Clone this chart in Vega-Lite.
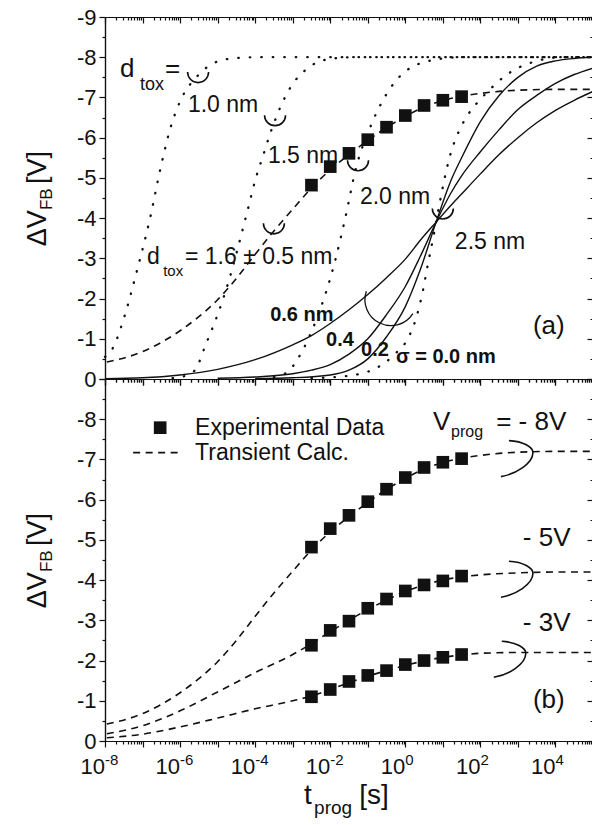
{
"$schema": "https://vega.github.io/schema/vega-lite/v6.json",
"padding": {"left": 24, "top": 6, "right": 0, "bottom": 0},
"background": "white",
"spacing": 0,
"bounds": "flush",
"config": {
  "view": {"stroke": null},
  "font": "Liberation Sans",
  "axis": {"labelFont": "Liberation Sans", "labelFontSize": 22, "labelColor": "#111", "domainColor": "#111", "tickColor": "#111", "domainWidth": 1.2, "tickWidth": 1.2, "grid": false, "labelPadding": 3, "title": null},
  "text": {"font": "Liberation Sans", "color": "#111"}
},
"datasets": {
  "curves": [
    {"c":"c10","t":1e-8,"v":-0.55},{"c":"c10","t":1.62e-8,"v":-0.77},{"c":"c10","t":3.16e-8,"v":-1.5},{"c":"c10","t":6.76e-8,"v":-2.62},{"c":"c10","t":1.585e-7,"v":-4.0},{"c":"c10","t":2.95e-7,"v":-5.2},{"c":"c10","t":5.37e-7,"v":-6.2},{"c":"c10","t":1e-6,"v":-6.9},{"c":"c10","t":3.02e-6,"v":-7.55},{"c":"c10","t":9.12e-6,"v":-7.88},{"c":"c10","t":3.16e-5,"v":-7.98},{"c":"c10","t":1e-4,"v":-8.0},{"c":"c10","t":1e5,"v":-8.0},
    {"c":"c15","t":6.31e-7,"v":-0.02},{"c":"c15","t":1.585e-6,"v":-0.1},{"c":"c15","t":2.63e-6,"v":-0.25},{"c":"c15","t":4.9e-6,"v":-0.87},{"c":"c15","t":1e-5,"v":-1.6},{"c":"c15","t":2.0e-5,"v":-2.45},{"c":"c15","t":3.55e-5,"v":-3.3},{"c":"c15","t":6.31e-5,"v":-4.2},{"c":"c15","t":1.047e-4,"v":-5.0},{"c":"c15","t":1.62e-4,"v":-5.55},{"c":"c15","t":2.51e-4,"v":-6.1},{"c":"c15","t":3.98e-4,"v":-6.6},{"c":"c15","t":6.61e-4,"v":-7.05},{"c":"c15","t":1.122e-3,"v":-7.4},{"c":"c15","t":2.0e-3,"v":-7.65},{"c":"c15","t":3.98e-3,"v":-7.85},{"c":"c15","t":1.259e-2,"v":-7.97},{"c":"c15","t":3.98e-2,"v":-8.0},{"c":"c15","t":1e5,"v":-8.0},
    {"c":"c20","t":3.16e-4,"v":-0.05},{"c":"c20","t":7.94e-4,"v":-0.2},{"c":"c20","t":1.259e-3,"v":-0.45},{"c":"c20","t":4.17e-3,"v":-1.45},{"c":"c20","t":1.35e-2,"v":-2.94},{"c":"c20","t":2.51e-2,"v":-4.0},{"c":"c20","t":4.9e-2,"v":-5.26},{"c":"c20","t":0.115,"v":-6.25},{"c":"c20","t":0.309,"v":-7.07},{"c":"c20","t":0.871,"v":-7.6},{"c":"c20","t":5.5,"v":-7.93},{"c":"c20","t":31.6,"v":-8.0},{"c":"c20","t":1e5,"v":-8.0},
    {"c":"c25","t":3.16e-3,"v":-0.02},{"c":"c25","t":2.51e-2,"v":-0.07},{"c":"c25","t":0.166,"v":-0.27},{"c":"c25","t":0.5,"v":-0.6},{"c":"c25","t":1.318,"v":-1.1},{"c":"c25","t":1.995,"v":-1.55},{"c":"c25","t":2.95,"v":-2.2},{"c":"c25","t":3.98,"v":-2.85},{"c":"c25","t":5.5,"v":-3.5},{"c":"c25","t":6.61,"v":-3.9},{"c":"c25","t":8.32,"v":-4.4},{"c":"c25","t":11.2,"v":-5.0},{"c":"c25","t":15.5,"v":-5.55},{"c":"c25","t":25.1,"v":-6.1},{"c":"c25","t":41.7,"v":-6.5},{"c":"c25","t":79.4,"v":-6.85},{"c":"c25","t":141,"v":-7.1},{"c":"c25","t":479,"v":-7.55},{"c":"c25","t":2512,"v":-7.88},{"c":"c25","t":15850,"v":-8.0},{"c":"c25","t":1e5,"v":-8.0},
    {"c":"s02","t":1e-4,"v":-0.01},{"c":"s02","t":1e-3,"v":-0.03},{"c":"s02","t":0.01,"v":-0.1},{"c":"s02","t":0.0316,"v":-0.22},{"c":"s02","t":0.1,"v":-0.5},{"c":"s02","t":0.316,"v":-1.05},{"c":"s02","t":1,"v":-1.8},{"c":"s02","t":2.512,"v":-2.72},{"c":"s02","t":6.61,"v":-3.9},{"c":"s02","t":15.85,"v":-4.9},{"c":"s02","t":31.6,"v":-5.5},{"c":"s02","t":100,"v":-6.4},{"c":"s02","t":316,"v":-7.05},{"c":"s02","t":1000,"v":-7.5},{"c":"s02","t":3162,"v":-7.78},{"c":"s02","t":10000,"v":-7.91},{"c":"s02","t":31620,"v":-7.97},{"c":"s02","t":1e5,"v":-8.0},
    {"c":"s04","t":1e-5,"v":-0.02},{"c":"s04","t":1e-4,"v":-0.05},{"c":"s04","t":1e-3,"v":-0.13},{"c":"s04","t":3.16e-3,"v":-0.22},{"c":"s04","t":0.01,"v":-0.36},{"c":"s04","t":0.0316,"v":-0.62},{"c":"s04","t":0.1,"v":-1.0},{"c":"s04","t":0.316,"v":-1.6},{"c":"s04","t":1,"v":-2.3},{"c":"s04","t":2.512,"v":-3.05},{"c":"s04","t":6.61,"v":-3.9},{"c":"s04","t":15.85,"v":-4.6},{"c":"s04","t":31.6,"v":-5.05},{"c":"s04","t":100,"v":-5.65},{"c":"s04","t":316,"v":-6.2},{"c":"s04","t":1000,"v":-6.7},{"c":"s04","t":3162,"v":-7.05},{"c":"s04","t":10000,"v":-7.35},{"c":"s04","t":31620,"v":-7.57},{"c":"s04","t":1e5,"v":-7.73},
    {"c":"s06","t":1e-8,"v":-0.01},{"c":"s06","t":1e-7,"v":-0.03},{"c":"s06","t":1e-6,"v":-0.1},{"c":"s06","t":1e-5,"v":-0.24},{"c":"s06","t":1e-4,"v":-0.48},{"c":"s06","t":1e-3,"v":-0.85},{"c":"s06","t":3.16e-3,"v":-1.08},{"c":"s06","t":0.01,"v":-1.38},{"c":"s06","t":0.0316,"v":-1.72},{"c":"s06","t":0.1,"v":-2.1},{"c":"s06","t":0.316,"v":-2.52},{"c":"s06","t":1,"v":-2.98},{"c":"s06","t":2.512,"v":-3.45},{"c":"s06","t":6.61,"v":-3.9},{"c":"s06","t":15.85,"v":-4.3},{"c":"s06","t":31.6,"v":-4.6},{"c":"s06","t":100,"v":-5.1},{"c":"s06","t":316,"v":-5.58},{"c":"s06","t":1000,"v":-6.0},{"c":"s06","t":3162,"v":-6.37},{"c":"s06","t":10000,"v":-6.68},{"c":"s06","t":31620,"v":-6.93},{"c":"s06","t":1e5,"v":-7.15},
    {"c":"d8","t":1.12e-8,"v":-0.42},{"c":"d8","t":1e-7,"v":-0.68},{"c":"d8","t":1e-6,"v":-1.2},{"c":"d8","t":3.16e-6,"v":-1.55},{"c":"d8","t":1e-5,"v":-1.97},{"c":"d8","t":3.16e-5,"v":-2.5},{"c":"d8","t":1e-4,"v":-3.1},{"c":"d8","t":3.16e-4,"v":-3.68},{"c":"d8","t":1e-3,"v":-4.22},{"c":"d8","t":3.16e-3,"v":-4.75},{"c":"d8","t":0.01,"v":-5.2},{"c":"d8","t":0.0316,"v":-5.58},{"c":"d8","t":0.1,"v":-5.93},{"c":"d8","t":0.316,"v":-6.25},{"c":"d8","t":1,"v":-6.53},{"c":"d8","t":3.16,"v":-6.76},{"c":"d8","t":10,"v":-6.92},{"c":"d8","t":31.6,"v":-7.03},{"c":"d8","t":100,"v":-7.1},{"c":"d8","t":316,"v":-7.15},{"c":"d8","t":1000,"v":-7.18},{"c":"d8","t":10000,"v":-7.2},{"c":"d8","t":100000,"v":-7.2},
    {"c":"d5","t":1.12e-8,"v":-0.18},{"c":"d5","t":1e-7,"v":-0.38},{"c":"d5","t":1e-6,"v":-0.75},{"c":"d5","t":1e-5,"v":-1.22},{"c":"d5","t":1e-4,"v":-1.7},{"c":"d5","t":1e-3,"v":-2.15},{"c":"d5","t":3.16e-3,"v":-2.42},{"c":"d5","t":0.01,"v":-2.72},{"c":"d5","t":0.0316,"v":-3.0},{"c":"d5","t":0.1,"v":-3.27},{"c":"d5","t":0.316,"v":-3.5},{"c":"d5","t":1,"v":-3.72},{"c":"d5","t":3.16,"v":-3.88},{"c":"d5","t":10,"v":-4.0},{"c":"d5","t":31.6,"v":-4.08},{"c":"d5","t":100,"v":-4.13},{"c":"d5","t":1000,"v":-4.18},{"c":"d5","t":10000,"v":-4.2},{"c":"d5","t":100000,"v":-4.2},
    {"c":"d3","t":1.12e-8,"v":-0.08},{"c":"d3","t":1e-7,"v":-0.17},{"c":"d3","t":1e-6,"v":-0.35},{"c":"d3","t":1e-5,"v":-0.57},{"c":"d3","t":1e-4,"v":-0.8},{"c":"d3","t":1e-3,"v":-1.0},{"c":"d3","t":3.16e-3,"v":-1.12},{"c":"d3","t":0.01,"v":-1.28},{"c":"d3","t":0.0316,"v":-1.45},{"c":"d3","t":0.1,"v":-1.61},{"c":"d3","t":0.316,"v":-1.75},{"c":"d3","t":1,"v":-1.88},{"c":"d3","t":3.16,"v":-1.99},{"c":"d3","t":10,"v":-2.08},{"c":"d3","t":31.6,"v":-2.14},{"c":"d3","t":100,"v":-2.18},{"c":"d3","t":1000,"v":-2.2},{"c":"d3","t":10000,"v":-2.2},{"c":"d3","t":100000,"v":-2.2}
  ],
  "squares": [
    {"s":"m8","t":0.00316,"v":-4.82},{"s":"m8","t":0.01,"v":-5.28},{"s":"m8","t":0.0316,"v":-5.61},{"s":"m8","t":0.1,"v":-5.95},{"s":"m8","t":0.316,"v":-6.26},{"s":"m8","t":1,"v":-6.55},{"s":"m8","t":3.16,"v":-6.8},{"s":"m8","t":10,"v":-6.93},{"s":"m8","t":31.6,"v":-7.02},
    {"s":"m5","t":0.00316,"v":-2.38},{"s":"m5","t":0.01,"v":-2.75},{"s":"m5","t":0.0316,"v":-2.98},{"s":"m5","t":0.1,"v":-3.3},{"s":"m5","t":0.316,"v":-3.53},{"s":"m5","t":1,"v":-3.73},{"s":"m5","t":3.16,"v":-3.88},{"s":"m5","t":10,"v":-3.98},{"s":"m5","t":31.6,"v":-4.1},
    {"s":"m3","t":0.00316,"v":-1.1},{"s":"m3","t":0.01,"v":-1.28},{"s":"m3","t":0.0316,"v":-1.48},{"s":"m3","t":0.1,"v":-1.63},{"s":"m3","t":0.316,"v":-1.75},{"s":"m3","t":1,"v":-1.9},{"s":"m3","t":3.16,"v":-2.0},{"s":"m3","t":10,"v":-2.08},{"s":"m3","t":31.6,"v":-2.15}
  ],
  "xbase": [{"t":1e-8,"label":"10"},{"t":1e-6,"label":"10"},{"t":1e-4,"label":"10"},{"t":0.01,"label":"10"},{"t":1,"label":"10"},{"t":100,"label":"10"},{"t":10000,"label":"10"}],
  "xexp": [{"t":1e-8,"label":"-8"},{"t":1e-6,"label":"-6"},{"t":1e-4,"label":"-4"},{"t":0.01,"label":"-2"},{"t":1,"label":"0"},{"t":100,"label":"2"},{"t":10000,"label":"4"}]
},
"vconcat": [
  {
    "width": 488, "height": 362,
    "resolve": {"axis": {"x": "independent", "y": "independent"}},
    "layer": [
      {"data": {"name": "curves"}, "transform": [{"filter": {"field": "c", "oneOf": ["c10","c15","c20","c25"]}}],
       "mark": {"type": "line", "strokeDash": [0.5, 11], "strokeCap": "round", "strokeWidth": 2.3, "color": "#111", "interpolate": "monotone"},
       "encoding": {
         "x": {"field": "t", "type": "quantitative", "scale": {"type": "log", "domain": [1e-8, 100000], "nice": false},
               "axis": {"orient": "bottom", "values": [1e-8,1e-7,1e-6,1e-5,1e-4,0.001,0.01,0.1,1,10,100,1000,10000,100000], "labels": false, "tickSize": 6}},
         "y": {"field": "v", "type": "quantitative", "scale": {"domain": [-9, 0], "reverse": true, "nice": false, "zero": false},
               "axis": {"orient": "left", "values": [-9,-8,-7,-6,-5,-4,-3,-2,-1,0], "tickSize": 6, "labelExpr": "datum.value == 0 ? '0' : '-' + abs(datum.value)"}},
         "detail": {"field": "c"}}},
      {"data": {"name": "curves"}, "transform": [{"filter": {"field": "c", "oneOf": ["s02","s04","s06"]}}],
       "mark": {"type": "line", "strokeWidth": 1.4, "color": "#111", "interpolate": "monotone"},
       "encoding": {
         "x": {"field": "t", "type": "quantitative", "axis": {"orient": "top", "values": [1e-8,1e-7,1e-6,1e-5,1e-4,0.001,0.01,0.1,1,10,100,1000,10000,100000], "labels": false, "tickSize": -6}},
         "y": {"field": "v", "type": "quantitative", "axis": {"orient": "right", "values": [-9,-8,-7,-6,-5,-4,-3,-2,-1,0], "labels": false, "tickSize": -6}},
         "detail": {"field": "c"}}},
      {"data": {"name": "curves"}, "transform": [{"filter": {"field": "c", "equal": "d8"}}],
       "mark": {"type": "line", "strokeDash": [7, 5.5], "strokeWidth": 1.6, "color": "#111", "interpolate": "monotone"},
       "encoding": {
         "x": {"field": "t", "type": "quantitative", "axis": {"orient": "bottom", "labels": false, "tickSize": 3, "values": [2e-8,3e-8,4e-8,5e-8,6e-8,7e-8,8e-8,9e-8,2e-7,3e-7,4e-7,5e-7,6e-7,7e-7,8e-7,9e-7,2e-6,3e-6,4e-6,5e-6,6e-6,7e-6,8e-6,9e-6,2e-5,3e-5,4e-5,5e-5,6e-5,7e-5,8e-5,9e-5,2e-4,3e-4,4e-4,5e-4,6e-4,7e-4,8e-4,9e-4,0.002,0.003,0.004,0.005,0.006,0.007,0.008,0.009,0.02,0.03,0.04,0.05,0.06,0.07,0.08,0.09,0.2,0.3,0.4,0.5,0.6,0.7,0.8,0.9,2,3,4,5,6,7,8,9,20,30,40,50,60,70,80,90,200,300,400,500,600,700,800,900,2000,3000,4000,5000,6000,7000,8000,9000,20000,30000,40000,50000,60000,70000,80000,90000]}},
         "y": {"field": "v", "type": "quantitative", "axis": {"orient": "left", "labels": false, "tickSize": 3, "values": [-8.5,-7.5,-6.5,-5.5,-4.5,-3.5,-2.5,-1.5,-0.5]}}}},
      {"data": {"name": "squares"}, "transform": [{"filter": {"field": "s", "equal": "m8"}}],
       "mark": {"type": "point", "shape": "square", "filled": true, "size": 160, "color": "#111", "opacity": 1},
       "encoding": {
         "x": {"field": "t", "type": "quantitative", "axis": {"orient": "top", "labels": false, "tickSize": -3, "values": [2e-8,3e-8,4e-8,5e-8,6e-8,7e-8,8e-8,9e-8,2e-7,3e-7,4e-7,5e-7,6e-7,7e-7,8e-7,9e-7,2e-6,3e-6,4e-6,5e-6,6e-6,7e-6,8e-6,9e-6,2e-5,3e-5,4e-5,5e-5,6e-5,7e-5,8e-5,9e-5,2e-4,3e-4,4e-4,5e-4,6e-4,7e-4,8e-4,9e-4,0.002,0.003,0.004,0.005,0.006,0.007,0.008,0.009,0.02,0.03,0.04,0.05,0.06,0.07,0.08,0.09,0.2,0.3,0.4,0.5,0.6,0.7,0.8,0.9,2,3,4,5,6,7,8,9,20,30,40,50,60,70,80,90,200,300,400,500,600,700,800,900,2000,3000,4000,5000,6000,7000,8000,9000,20000,30000,40000,50000,60000,70000,80000,90000]}},
         "y": {"field": "v", "type": "quantitative", "axis": {"orient": "right", "labels": false, "tickSize": -3, "values": [-8.5,-7.5,-6.5,-5.5,-4.5,-3.5,-2.5,-1.5,-0.5]}}}},
      {"data": {"values": [{"t":3.02e-6,"v":-7.63},{"t":3.39e-4,"v":-6.56},{"t":3.16e-4,"v":-3.87},{"t":0.055,"v":-5.44},{"t":10,"v":-4.24}]},
       "mark": {"type": "point", "shape": "M -1 0 A 1 1 0 0 0 1 0", "filled": false, "strokeWidth": 1.6, "size": 441, "color": "#111", "opacity": 1},
       "encoding": {"x": {"field": "t", "type": "quantitative", "axis": null}, "y": {"field": "v", "type": "quantitative", "axis": null}}},
      {"data": {"values": [{"t":0.417,"v":-1.97}]},
       "mark": {"type": "point", "shape": "M -0.95 -0.33 A 1 1 0 0 0 0.84 0.53", "filled": false, "strokeWidth": 1.3, "size": 2704, "color": "#111", "opacity": 1},
       "encoding": {"x": {"field": "t", "type": "quantitative", "axis": null}, "y": {"field": "v", "type": "quantitative", "axis": null}}},
      {"data": {"values": [{"t":1.62e-6,"v":-6.63,"label":"1.0 nm"},{"t":2.19e-4,"v":-5.36,"label":"1.5 nm"},{"t":0.0617,"v":-4.36,"label":"2.0 nm"},{"t":20.9,"v":-3.24,"label":"2.5 nm"},{"t":1.32e-7,"v":-2.87,"label":"d"},{"t":1.35e-6,"v":-2.87,"label":"= 1.6 ± 0.5 nm"}]},
       "mark": {"type": "text", "align": "left", "baseline": "alphabetic", "fontSize": 23},
       "encoding": {"x": {"field": "t", "type": "quantitative", "axis": null}, "y": {"field": "v", "type": "quantitative", "axis": null}, "text": {"field": "label"}}},
      {"data": {"values": [{"t":2.51e-8,"v":-7.51,"label":"d"},{"t":3.98e-7,"v":-7.51,"label":"="},{"t":2512,"v":-1.12,"label":"(a)"}]},
       "mark": {"type": "text", "align": "left", "baseline": "alphabetic", "fontSize": 26},
       "encoding": {"x": {"field": "t", "type": "quantitative", "axis": null}, "y": {"field": "v", "type": "quantitative", "axis": null}, "text": {"field": "label"}}},
      {"data": {"values": [{"t":8.51e-8,"v":-7.18,"label":"tox"}]},
       "mark": {"type": "text", "align": "left", "baseline": "alphabetic", "fontSize": 18},
       "encoding": {"x": {"field": "t", "type": "quantitative", "axis": null}, "y": {"field": "v", "type": "quantitative", "axis": null}, "text": {"field": "label"}}},
      {"data": {"values": [{"t":3.55e-7,"v":-2.57,"label":"tox"}]},
       "mark": {"type": "text", "align": "left", "baseline": "alphabetic", "fontSize": 15},
       "encoding": {"x": {"field": "t", "type": "quantitative", "axis": null}, "y": {"field": "v", "type": "quantitative", "axis": null}, "text": {"field": "label"}}},
      {"data": {"values": [{"t":2.51e-4,"v":-1.45,"label":"0.6 nm"},{"t":0.00776,"v":-0.82,"label":"0.4"},{"t":0.0661,"v":-0.57,"label":"0.2"},{"t":0.562,"v":-0.4,"label":"σ = 0.0 nm"}]},
       "mark": {"type": "text", "align": "left", "baseline": "alphabetic", "fontSize": 20, "fontWeight": "bold"},
       "encoding": {"x": {"field": "t", "type": "quantitative", "axis": null}, "y": {"field": "v", "type": "quantitative", "axis": null}, "text": {"field": "label"}}},
      {"data": {"values": [{"t":2.69e-10,"v":-3.3,"label":"ΔV"},{"t":2.69e-10,"v":-4.85,"label":"[V]"}]},
       "mark": {"type": "text", "align": "left", "baseline": "alphabetic", "fontSize": 27, "angle": 270},
       "encoding": {"x": {"field": "t", "type": "quantitative", "axis": null}, "y": {"field": "v", "type": "quantitative", "axis": null}, "text": {"field": "label"}}},
      {"data": {"values": [{"t":3.89e-10,"v":-4.2,"label":"FB"}]},
       "mark": {"type": "text", "align": "left", "baseline": "alphabetic", "fontSize": 17, "angle": 270},
       "encoding": {"x": {"field": "t", "type": "quantitative", "axis": null}, "y": {"field": "v", "type": "quantitative", "axis": null}, "text": {"field": "label"}}}
    ]
  },
  {
    "width": 488, "height": 362,
    "resolve": {"axis": {"x": "independent", "y": "independent"}},
    "layer": [
      {"data": {"name": "curves"}, "transform": [{"filter": {"field": "c", "oneOf": ["d8","d5","d3"]}}],
       "mark": {"type": "line", "strokeDash": [7, 5.5], "strokeWidth": 1.6, "color": "#111", "interpolate": "monotone"},
       "encoding": {
         "x": {"field": "t", "type": "quantitative", "scale": {"type": "log", "domain": [1e-8, 100000], "nice": false},
               "axis": {"orient": "bottom", "values": [1e-8,1e-7,1e-6,1e-5,1e-4,0.001,0.01,0.1,1,10,100,1000,10000,100000], "tickSize": 6, "labels": false}},
         "y": {"field": "v", "type": "quantitative", "scale": {"domain": [-9, 0], "reverse": true, "nice": false, "zero": false},
               "axis": {"orient": "left", "values": [-9,-8,-7,-6,-5,-4,-3,-2,-1,0], "tickSize": 6, "labelExpr": "datum.value == -9 ? '' : datum.value == 0 ? '0' : '-' + abs(datum.value)"}},
         "detail": {"field": "c"}}},
      {"data": {"name": "squares"},
       "mark": {"type": "point", "shape": "square", "filled": true, "size": 160, "color": "#111", "opacity": 1},
       "encoding": {
         "x": {"field": "t", "type": "quantitative", "axis": {"orient": "top", "values": [1e-8,1e-7,1e-6,1e-5,1e-4,0.001,0.01,0.1,1,10,100,1000,10000,100000], "labels": false, "tickSize": -6}},
         "y": {"field": "v", "type": "quantitative", "axis": {"orient": "right", "values": [-9,-8,-7,-6,-5,-4,-3,-2,-1,0], "labels": false, "tickSize": -6}}}},
      {"data": {"values": [{"t":5.62e-8,"v":-7.17},{"t":1.2e-6,"v":-7.17}]},
       "mark": {"type": "line", "strokeDash": [7, 5.5], "strokeWidth": 1.6, "color": "#111"},
       "encoding": {
         "x": {"field": "t", "type": "quantitative", "axis": {"orient": "bottom", "labels": false, "tickSize": 3, "values": [2e-8,3e-8,4e-8,5e-8,6e-8,7e-8,8e-8,9e-8,2e-7,3e-7,4e-7,5e-7,6e-7,7e-7,8e-7,9e-7,2e-6,3e-6,4e-6,5e-6,6e-6,7e-6,8e-6,9e-6,2e-5,3e-5,4e-5,5e-5,6e-5,7e-5,8e-5,9e-5,2e-4,3e-4,4e-4,5e-4,6e-4,7e-4,8e-4,9e-4,0.002,0.003,0.004,0.005,0.006,0.007,0.008,0.009,0.02,0.03,0.04,0.05,0.06,0.07,0.08,0.09,0.2,0.3,0.4,0.5,0.6,0.7,0.8,0.9,2,3,4,5,6,7,8,9,20,30,40,50,60,70,80,90,200,300,400,500,600,700,800,900,2000,3000,4000,5000,6000,7000,8000,9000,20000,30000,40000,50000,60000,70000,80000,90000]}},
         "y": {"field": "v", "type": "quantitative", "axis": {"orient": "left", "labels": false, "tickSize": 3, "values": [-8.5,-7.5,-6.5,-5.5,-4.5,-3.5,-2.5,-1.5,-0.5]}}}},
      {"data": {"values": [{"t":2512,"v":-7.17},{"t":2512,"v":-4.17},{"t":1622,"v":-2.18}]},
       "mark": {"type": "point", "shape": "M -1.5 -0.75 C -0.6 -0.7 0 -0.35 0 0 C 0 0.7 -1.1 1.35 -2 1.5", "filled": false, "strokeWidth": 1.6, "size": 1024, "color": "#111", "opacity": 1},
       "encoding": {
         "x": {"field": "t", "type": "quantitative", "axis": {"orient": "top", "labels": false, "tickSize": -3, "values": [2e-8,3e-8,4e-8,5e-8,6e-8,7e-8,8e-8,9e-8,2e-7,3e-7,4e-7,5e-7,6e-7,7e-7,8e-7,9e-7,2e-6,3e-6,4e-6,5e-6,6e-6,7e-6,8e-6,9e-6,2e-5,3e-5,4e-5,5e-5,6e-5,7e-5,8e-5,9e-5,2e-4,3e-4,4e-4,5e-4,6e-4,7e-4,8e-4,9e-4,0.002,0.003,0.004,0.005,0.006,0.007,0.008,0.009,0.02,0.03,0.04,0.05,0.06,0.07,0.08,0.09,0.2,0.3,0.4,0.5,0.6,0.7,0.8,0.9,2,3,4,5,6,7,8,9,20,30,40,50,60,70,80,90,200,300,400,500,600,700,800,900,2000,3000,4000,5000,6000,7000,8000,9000,20000,30000,40000,50000,60000,70000,80000,90000]}},
         "y": {"field": "v", "type": "quantitative", "axis": {"orient": "right", "labels": false, "tickSize": -3, "values": [-8.5,-7.5,-6.5,-5.5,-4.5,-3.5,-2.5,-1.5,-0.5]}}}},
      {"data": {"values": [{"t":2.95e-7,"v":-7.79}]},
       "mark": {"type": "point", "shape": "square", "filled": true, "size": 160, "color": "#111", "opacity": 1},
       "encoding": {"x": {"field": "t", "type": "quantitative", "axis": null}, "y": {"field": "v", "type": "quantitative", "axis": null}}},
      {"data": {"values": [{"t":2.51e-6,"v":-7.79,"label":"Experimental Data"},{"t":2.51e-6,"v":-7.17,"label":"Transient Calc."}]},
       "mark": {"type": "text", "align": "left", "baseline": "middle", "fontSize": 23},
       "encoding": {"x": {"field": "t", "type": "quantitative", "axis": null}, "y": {"field": "v", "type": "quantitative", "axis": null}, "text": {"field": "label"}}},
      {"data": {"values": [{"t":5.5,"v":-7.74,"label":"V"},{"t":263,"v":-7.74,"label":"= - 8V"},{"t":1349,"v":-4.84,"label":"- 5V"},{"t":1349,"v":-2.73,"label":"- 3V"},{"t":2512,"v":-0.82,"label":"(b)"}]},
       "mark": {"type": "text", "align": "left", "baseline": "alphabetic", "fontSize": 26},
       "encoding": {"x": {"field": "t", "type": "quantitative", "axis": null}, "y": {"field": "v", "type": "quantitative", "axis": null}, "text": {"field": "label"}}},
      {"data": {"values": [{"t":16.6,"v":-7.56,"label":"prog"}]},
       "mark": {"type": "text", "align": "left", "baseline": "alphabetic", "fontSize": 16},
       "encoding": {"x": {"field": "t", "type": "quantitative", "axis": null}, "y": {"field": "v", "type": "quantitative", "axis": null}, "text": {"field": "label"}}},
      {"data": {"values": [{"t":2.69e-10,"v":-3.3,"label":"ΔV"},{"t":2.69e-10,"v":-4.85,"label":"[V]"}]},
       "mark": {"type": "text", "align": "left", "baseline": "alphabetic", "fontSize": 27, "angle": 270},
       "encoding": {"x": {"field": "t", "type": "quantitative", "axis": null}, "y": {"field": "v", "type": "quantitative", "axis": null}, "text": {"field": "label"}}},
      {"data": {"values": [{"t":3.89e-10,"v":-4.2,"label":"FB"}]},
       "mark": {"type": "text", "align": "left", "baseline": "alphabetic", "fontSize": 17, "angle": 270},
       "encoding": {"x": {"field": "t", "type": "quantitative", "axis": null}, "y": {"field": "v", "type": "quantitative", "axis": null}, "text": {"field": "label"}}},
      {"data": {"name": "xbase"},
       "mark": {"type": "text", "align": "right", "baseline": "alphabetic", "fontSize": 22},
       "encoding": {"x": {"field": "t", "type": "quantitative", "axis": null}, "y": {"datum": 0.82, "type": "quantitative", "axis": null}, "text": {"field": "label"}}},
      {"data": {"name": "xexp"},
       "mark": {"type": "text", "align": "left", "baseline": "alphabetic", "fontSize": 15},
       "encoding": {"x": {"field": "t", "type": "quantitative", "axis": null}, "y": {"datum": 0.6, "type": "quantitative", "axis": null}, "text": {"field": "label"}}},
      {"data": {"values": [{"t":0.002,"v":1.56,"label":"t"},{"t":0.0589,"v":1.56,"label":"[s]"}]},
       "mark": {"type": "text", "align": "left", "baseline": "alphabetic", "fontSize": 28},
       "encoding": {"x": {"field": "t", "type": "quantitative", "axis": null}, "y": {"field": "v", "type": "quantitative", "axis": null}, "text": {"field": "label"}}},
      {"data": {"values": [{"t":0.00372,"v":1.81,"label":"prog"}]},
       "mark": {"type": "text", "align": "left", "baseline": "alphabetic", "fontSize": 19},
       "encoding": {"x": {"field": "t", "type": "quantitative", "axis": null}, "y": {"field": "v", "type": "quantitative", "axis": null}, "text": {"field": "label"}}}
    ]
  }
]
}
